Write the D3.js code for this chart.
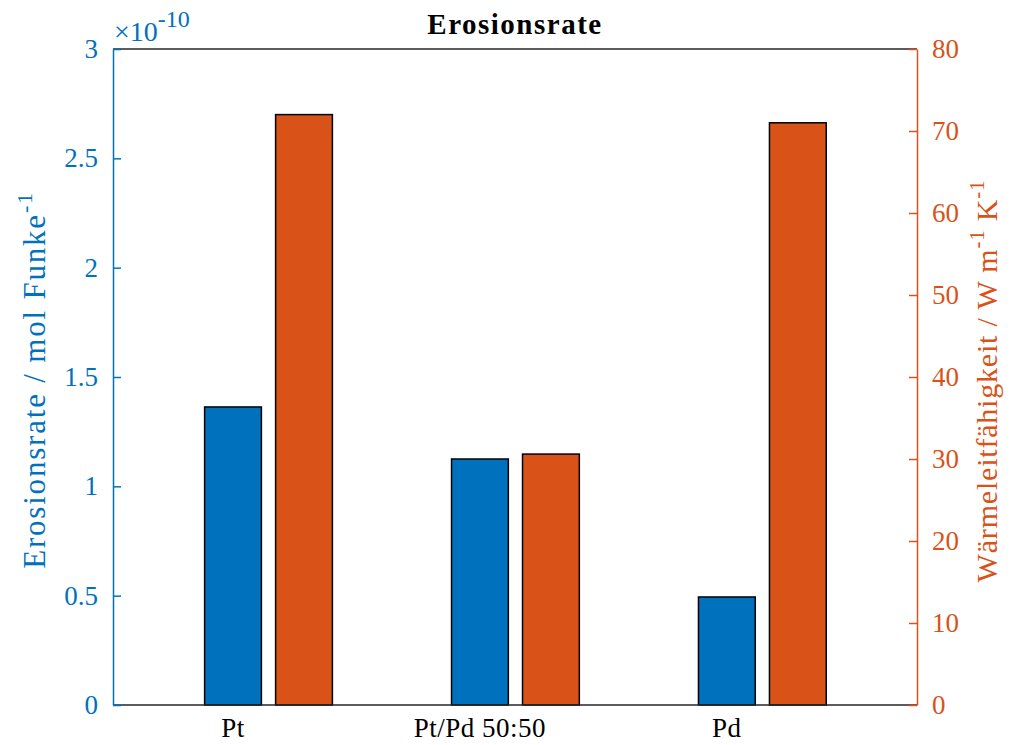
<!DOCTYPE html>
<html>
<head>
<meta charset="utf-8">
<script src="https://cdn.jsdelivr.net/npm/d3@7"></script>
<style>
  body { margin: 0; background: #fff; }
  svg { display: block; }
</style>
</head>
<body>
<div id="chart"></div>
<script>
// data
const categories = ['Pt', 'Pt/Pd 50:50', 'Pd'];
const erosion = [1.363, 1.125, 0.494];        // x 1e-10 mol / Funke
const conductivity = [72.0, 30.6, 71.0];      // W m^-1 K^-1
const leftTicks = [0, 0.5, 1, 1.5, 2, 2.5, 3];
const rightTicks = [0, 10, 20, 30, 40, 50, 60, 70, 80];

const blue = '#0072BD';
const orange = '#D95319';
const dark = '#262626';
const serif = '"Liberation Serif", "DejaVu Serif", serif';

const W = 1012, H = 745;
const m = { left: 113, right: 95, top: 49, bottom: 40 };

const svg = d3.select('#chart').append('svg').attr('width', W).attr('height', H)
  .attr('font-family', serif);

const x = d3.scaleLinear().domain([0.514, 3.77]).range([m.left, W - m.right]);
const yL = d3.scaleLinear().domain([0, 3]).range([H - m.bottom, m.top]);
const yR = d3.scaleLinear().domain([0, 80]).range([H - m.bottom, m.top]);

const barW = 0.23;   // bar width in x units
const shift = 0.2875; // orange bar offset

// bars
svg.append('g').selectAll('rect').data(erosion).join('rect')
  .attr('x', (d, i) => x(i + 1 - barW / 2))
  .attr('width', x(barW) - x(0))
  .attr('y', d => yL(d))
  .attr('height', d => yL(0) - yL(d))
  .attr('fill', blue).attr('stroke', '#000').attr('stroke-width', 1.5);

svg.append('g').selectAll('rect').data(conductivity).join('rect')
  .attr('x', (d, i) => x(i + 1 + shift - barW / 2))
  .attr('width', x(barW) - x(0))
  .attr('y', d => yR(d))
  .attr('height', d => yR(0) - yR(d))
  .attr('fill', orange).attr('stroke', '#000').attr('stroke-width', 1.5);

// box top + bottom
svg.append('line').attr('x1', x.range()[0]).attr('x2', x.range()[1])
  .attr('y1', m.top).attr('y2', m.top).attr('stroke', dark).attr('stroke-width', 1.5);
svg.append('line').attr('x1', x.range()[0]).attr('x2', x.range()[1])
  .attr('y1', yL(0)).attr('y2', yL(0)).attr('stroke', dark).attr('stroke-width', 1.5);

// left axis
const gL = svg.append('g').attr('transform', `translate(${m.left},0)`)
  .call(d3.axisLeft(yL).tickValues(leftTicks).tickSizeInner(-8).tickSizeOuter(0).tickPadding(15)
    .tickFormat(d => d));
gL.attr('font-family', serif).attr('font-size', 27);
gL.select('.domain').attr('stroke', blue).attr('stroke-width', 1.5);
gL.selectAll('.tick line').attr('stroke', blue).attr('stroke-width', 1.5);
gL.selectAll('.tick text').attr('fill', blue);

// right axis
const gR = svg.append('g').attr('transform', `translate(${W - m.right},0)`)
  .call(d3.axisRight(yR).tickValues(rightTicks).tickSizeInner(-8).tickSizeOuter(0).tickPadding(15));
gR.attr('font-family', serif).attr('font-size', 27);
gR.select('.domain').attr('stroke', orange).attr('stroke-width', 1.5);
gR.selectAll('.tick line').attr('stroke', orange).attr('stroke-width', 1.5);
gR.selectAll('.tick text').attr('fill', orange);

// x labels
svg.append('g').selectAll('text').data(categories).join('text')
  .attr('x', (d, i) => x(i + 1))
  .attr('y', 737)
  .attr('text-anchor', 'middle')
  .attr('font-size', 27)
  .attr('letter-spacing', 0.5)
  .attr('fill', '#000')
  .text(d => d);

// exponent
const ex = svg.append('text').attr('x', 114).attr('y', 41).attr('fill', blue).attr('font-size', 28);
ex.append('tspan').text('\u00d710');
ex.append('tspan').attr('dy', -14).attr('font-size', 24).text('-10');

// title
svg.append('text').attr('x', (x.range()[0] + x.range()[1]) / 2).attr('y', 34)
  .attr('text-anchor', 'middle').attr('font-weight', 'bold').attr('font-size', 29)
  .attr('letter-spacing', 1.5).text('Erosionsrate');

// y labels
const lab = svg.append('text').attr('transform', 'translate(45,380) rotate(-90)')
  .attr('text-anchor', 'middle').attr('fill', blue).attr('font-size', 31).attr('letter-spacing', 1.8);
lab.append('tspan').text('Erosionsrate / mol Funke');
lab.append('tspan').attr('dy', -13).attr('font-size', 22).text('-1');

const rab = svg.append('text').attr('transform', 'translate(997,381) rotate(-90)')
  .attr('text-anchor', 'middle').attr('fill', orange).attr('font-size', 30).attr('letter-spacing', 0.8);
rab.append('tspan').text('Wärmeleitfähigkeit / W m');
rab.append('tspan').attr('dy', -13).attr('font-size', 21).text('-1');
rab.append('tspan').attr('dy', 13).text(' K');
rab.append('tspan').attr('dy', -13).attr('font-size', 21).text('-1');
</script>
</body>
</html>
